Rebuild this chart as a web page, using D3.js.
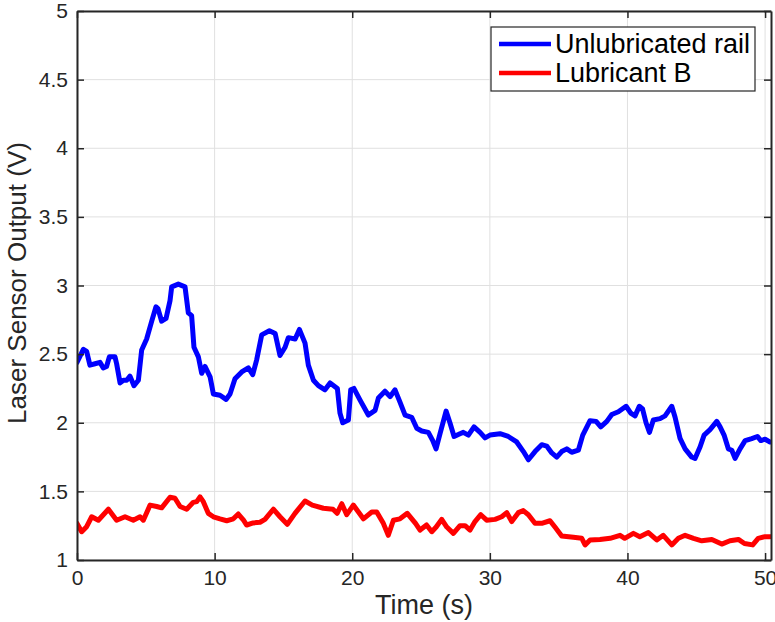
<!DOCTYPE html>
<html lang="en">
<head>
    <meta charset="utf-8">
    <title>Laser Sensor Output</title>
    <script src="https://cdn.jsdelivr.net/npm/d3@7"></script>
    <style>
        body { margin: 0; background: #fff; }
        svg { display: block; font-family: "Liberation Sans", Arial, sans-serif; }
    </style>
</head>
<body>
    <svg id="chart" width="775" height="622"></svg>

    <script>
        // Unlubricated rail (blue)
        const railTime = [0, 0.46, 0.7, 0.94, 1.31, 1.67, 1.91, 2.15, 2.35, 2.76, 2.88, 3.13, 3.37, 3.61, 3.85, 4.14, 4.46,
            4.7, 5.06, 5.43, 5.74, 5.89, 6.15, 6.47, 6.76, 6.88, 7.36, 7.85, 8.09, 8.33, 8.5, 8.82, 9.06, 9.3, 9.67,
            9.91, 10.39, 10.83, 11.12, 11.48, 11.97, 12.45, 12.77, 13.06, 13.42, 13.98, 14.4, 14.75, 15.12, 15.36,
            15.85, 16.16, 16.57, 16.81, 17.18, 17.54, 18.02, 18.39, 18.92, 19.11, 19.31, 19.72, 19.89, 20.12, 20.57,
            21.17, 21.66, 21.9, 22.38, 22.75, 23.11, 23.47, 23.84, 24.32, 24.69, 25.05, 25.53, 25.85, 26.09, 26.38,
            26.82, 27.1, 27.4, 27.83, 28.07, 28.44, 28.85, 29.29, 29.65, 30.01, 30.74, 31.34, 31.95, 32.44, 32.8,
            33.28, 33.77, 34.13, 34.5, 34.86, 35.22, 35.59, 35.95, 36.43, 36.75, 37.28, 37.72, 38.06, 38.5, 38.86,
            39.34, 39.9, 40.24, 40.55, 40.86, 41.1, 41.35, 41.6, 41.88, 42.37, 42.73, 43.22, 43.46, 43.82, 44.19,
            44.67, 44.91, 45.28, 45.57, 46.0, 46.49, 46.73, 47.02, 47.33, 47.58, 47.82, 48.18, 48.55, 49.03, 49.44,
            49.69, 50.0, 50.36];
        const railVolt = [2.44, 2.535, 2.52, 2.42, 2.43, 2.44, 2.4, 2.41, 2.48, 2.48, 2.43, 2.29, 2.31, 2.31, 2.34, 2.27, 2.31,
            2.53, 2.61, 2.74, 2.845, 2.83, 2.74, 2.76, 2.89, 2.99, 3.01, 2.99, 2.8, 2.78, 2.55, 2.48, 2.36, 2.41, 2.335,
            2.21, 2.2, 2.17, 2.21, 2.32, 2.37, 2.4, 2.35, 2.46, 2.64, 2.67, 2.65, 2.49, 2.55, 2.62,
            2.61, 2.68, 2.58, 2.42, 2.31, 2.27, 2.24, 2.29, 2.25, 2.07, 2.0, 2.02, 2.24, 2.25, 2.165,
            2.056, 2.09, 2.18, 2.23, 2.19, 2.24, 2.15, 2.056, 2.04, 1.96, 1.94, 1.93, 1.87, 1.81, 1.92,
            2.085, 2.0, 1.9, 1.92, 1.93, 1.91, 1.97, 1.93, 1.89, 1.91, 1.92, 1.9, 1.86, 1.79, 1.73,
            1.79, 1.84, 1.83, 1.78, 1.75, 1.79, 1.81, 1.785, 1.8, 1.91, 2.015, 2.01, 1.97, 2.01, 2.06,
            2.08, 2.12, 2.07, 2.05, 2.12, 2.1, 2.0, 1.93, 2.02, 2.03, 2.05, 2.12, 2.04, 1.886, 1.81,
            1.75, 1.74, 1.825, 1.91, 1.95, 2.01, 1.97, 1.91, 1.81, 1.8, 1.74, 1.81, 1.87, 1.885, 1.9,
            1.87, 1.88, 1.86];

        // Lubricant B (red)
        const lubeTime = [0, 0.34, 0.7, 1.07, 1.55, 2.28, 2.88, 3.49, 4.09, 4.58, 4.82, 5.31, 5.79, 6.15, 6.76, 7.12, 7.49,
            7.97, 8.45, 8.7, 8.94, 9.18, 9.54, 9.91, 10.39, 10.88, 11.36, 11.72, 12.1, 12.33, 12.8, 13.3, 13.66,
            14.27, 14.75, 15.28, 15.84, 16.57, 17.1, 17.9, 18.6, 18.9, 19.24, 19.6, 20.08, 20.45, 20.81, 21.42,
            21.78, 22.26, 22.62, 22.99, 23.47, 24.0, 24.6, 24.93, 25.4, 25.78, 26.1, 26.5, 26.87, 27.35, 27.83,
            28.2, 28.56, 28.92, 29.34, 29.77, 30.38, 30.86, 31.23, 31.59, 32.07, 32.43, 32.8, 33.28, 33.77, 34.37,
            34.73, 35.22, 36.07, 36.68, 36.92, 37.28, 38.0, 38.74, 39.46, 39.8, 40.43, 40.9, 41.52, 42.13, 42.6,
            43.22, 43.7, 44.19, 44.8, 45.4, 46.13, 46.85, 47.45, 48.06, 48.5, 49.1, 49.5, 50.0, 50.36];
        const lubeVolt = [1.267, 1.206, 1.243, 1.315, 1.29, 1.37, 1.29, 1.315, 1.29, 1.315, 1.29, 1.4, 1.39, 1.38, 1.457, 1.45, 1.39,
            1.37, 1.42, 1.425, 1.46, 1.425, 1.34, 1.315, 1.3, 1.286, 1.3, 1.335, 1.29, 1.255, 1.27, 1.275, 1.296,
            1.37, 1.315, 1.26, 1.34, 1.43, 1.4, 1.377, 1.37, 1.34, 1.41, 1.33, 1.4, 1.35, 1.3, 1.35,
            1.35, 1.267, 1.18, 1.29, 1.3, 1.34, 1.267, 1.218, 1.255, 1.206, 1.24, 1.296, 1.24, 1.194, 1.25,
            1.25, 1.218, 1.28, 1.33, 1.29, 1.296, 1.315, 1.345, 1.28, 1.345, 1.36, 1.33, 1.267, 1.267, 1.286,
            1.24, 1.175, 1.165, 1.158, 1.11, 1.146, 1.15, 1.158, 1.18, 1.158, 1.194, 1.17, 1.2, 1.146, 1.18,
            1.11, 1.158, 1.18, 1.158, 1.14, 1.15, 1.116, 1.14, 1.15, 1.12, 1.11, 1.158, 1.17, 1.17];

        const xTicks = [0, 10, 20, 30, 40, 50];
        const yTicks = [1, 1.5, 2, 2.5, 3, 3.5, 4, 4.5, 5];
        const legendLabels = ["Unlubricated rail", "Lubricant B"];
        const seriesColors = ["#0000ff", "#ff0000"];

        const svg = d3.select("#chart");
        const plotLeft = 77, plotTop = 11, plotRight = 771, plotBottom = 560;
        const axisColor = "#262626";

        const x = d3.scaleLinear().domain([0, 50.43]).range([plotLeft, plotRight]);
        const y = d3.scaleLinear().domain([1, 5]).range([plotBottom, plotTop]);

        // grid
        svg.append("g").selectAll("line")
            .data(xTicks)
            .join("line")
            .attr("x1", d => x(d)).attr("x2", d => x(d))
            .attr("y1", plotTop).attr("y2", plotBottom)
            .attr("stroke", "#e0e0e0").attr("stroke-width", 1);
        svg.append("g").selectAll("line")
            .data(yTicks)
            .join("line")
            .attr("x1", plotLeft).attr("x2", plotRight)
            .attr("y1", d => y(d)).attr("y2", d => y(d))
            .attr("stroke", "#e0e0e0").attr("stroke-width", 1);

        // series
        const line = d3.line().x(d => x(d[0])).y(d => y(d[1]));
        const series = [
            d3.zip(railTime, railVolt),
            d3.zip(lubeTime, lubeVolt)
        ];
        svg.append("defs").append("clipPath").attr("id", "clip")
            .append("rect").attr("x", plotLeft).attr("y", plotTop)
            .attr("width", plotRight - plotLeft).attr("height", plotBottom - plotTop);
        svg.append("g").attr("clip-path", "url(#clip)")
            .selectAll("path")
            .data(series)
            .join("path")
            .attr("d", line)
            .attr("fill", "none")
            .attr("stroke", (d, i) => seriesColors[i])
            .attr("stroke-width", 5)
            .attr("stroke-linejoin", "round")
            .attr("stroke-linecap", "round");

        // axes (ticks pointing inward, box on)
        const tickLen = 7;
        const xAxisBottom = d3.axisBottom(x).tickValues(xTicks).tickSizeInner(-tickLen).tickSizeOuter(0).tickPadding(10);
        const xAxisTop = d3.axisTop(x).tickValues(xTicks).tickSizeInner(-tickLen).tickSizeOuter(0).tickFormat("");
        const yAxisLeft = d3.axisLeft(y).tickValues(yTicks).tickSizeInner(-tickLen).tickSizeOuter(0).tickPadding(9)
            .tickFormat(d3.format("~g"));
        const yAxisRight = d3.axisRight(y).tickValues(yTicks).tickSizeInner(-tickLen).tickSizeOuter(0).tickFormat("");

        const axes = [
            svg.append("g").attr("transform", `translate(0,${plotBottom})`).call(xAxisBottom),
            svg.append("g").attr("transform", `translate(0,${plotTop})`).call(xAxisTop),
            svg.append("g").attr("transform", `translate(${plotLeft},0)`).call(yAxisLeft),
            svg.append("g").attr("transform", `translate(${plotRight},0)`).call(yAxisRight)
        ];
        axes.forEach(g => {
            g.select(".domain").attr("stroke", axisColor).attr("stroke-width", 2);
            g.selectAll(".tick line").attr("stroke", axisColor).attr("stroke-width", 1.5);
            g.selectAll(".tick text").attr("fill", axisColor).attr("font-size", 21)
                .attr("font-family", "'Liberation Sans', Arial, sans-serif");
        });

        // axis labels
        svg.append("text")
            .attr("x", (plotLeft + plotRight) / 2).attr("y", 614)
            .attr("text-anchor", "middle")
            .attr("font-size", 27).attr("fill", axisColor)
            .text("Time (s)");
        svg.append("text")
            .attr("transform", "translate(26,283) rotate(-90)")
            .attr("text-anchor", "middle")
            .attr("font-size", 26).attr("fill", axisColor)
            .text("Laser Sensor Output (V)");

        // legend
        const legend = svg.append("g");
        legend.append("rect")
            .attr("x", 491).attr("y", 27).attr("width", 264).attr("height", 64)
            .attr("fill", "#fff").attr("stroke", axisColor).attr("stroke-width", 1.2);
        const entries = legend.selectAll("g.entry")
            .data(legendLabels)
            .join("g")
            .attr("class", "entry")
            .attr("transform", (d, i) => `translate(0,${44 + i * 29})`);
        entries.append("line")
            .attr("x1", 499).attr("x2", 551)
            .attr("stroke", (d, i) => seriesColors[i])
            .attr("stroke-width", 4.5);
        entries.append("text")
            .attr("x", 555).attr("y", 9)
            .attr("font-size", 27).attr("fill", "#000")
            .text(d => d);
    </script>
</body>
</html>
